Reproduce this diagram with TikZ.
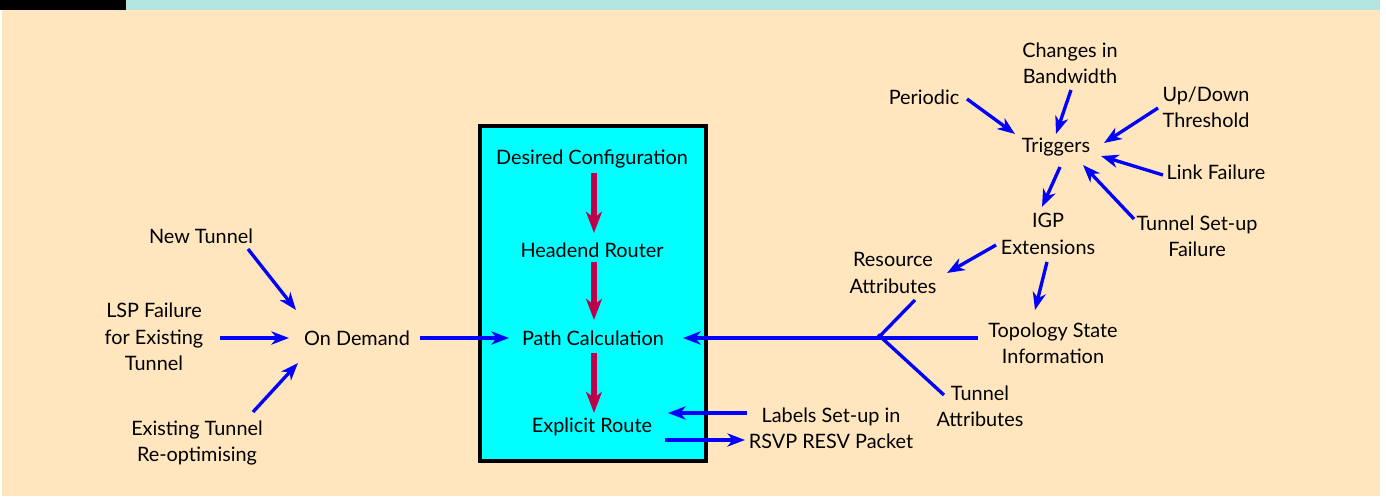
\documentclass[tikz,border=0pt]{standalone}
\usepackage{fontspec}
\setmainfont{Lato}
\usetikzlibrary{arrows.meta}

\definecolor{paper}{RGB}{255,230,191}
\definecolor{topbar}{RGB}{179,229,224}
\definecolor{boxcyan}{RGB}{0,255,255}
\definecolor{flowred}{RGB}{190,0,75}

\tikzset{
  txt/.style={font=\fontsize{11.3}{15}\selectfont, align=center, inner sep=0pt},
  arr/.style={draw=blue, line width=1.9pt, -{Stealth[length=10pt,width=7.5pt,inset=3pt]}},
  bline/.style={draw=blue, line width=1.9pt},
  redarr/.style={draw=flowred, line width=2.9pt, -{Stealth[length=12pt,width=9pt,inset=3.5pt]}},
}

\begin{document}
\begin{tikzpicture}[x=0.02cm, y=-0.02cm]

\useasboundingbox (0,0) rectangle (1386,497);

% Background
\fill[paper] (2,10) rectangle (1380,496);
\fill[black] (0,0) rectangle (126,10);
\fill[topbar] (126,0) rectangle (1380,10);
\filldraw[fill=boxcyan, draw=black, line width=2pt] (480,126) rectangle (706,461);

% Define nodes
\path (592,159) node[txt] (desired) {Desired Configuration}
(592,250) node[txt] (headend) {Headend Router}
(593,338) node[txt] (pathcalc) {Path Calculation}
(592,427) node[txt] (explicit) {Explicit Route}
(357,338) node[txt] (ondem) {On Demand}
(201,236) node[txt] (ntun) {New Tunnel}
(154,337) node[txt] (lsp) {LSP Failure\\for Existing\\Tunnel}
(197,443) node[txt] (exist) {Existing Tunnel\\Re-optimising}
(1056,147) node[txt] (trig) {Triggers}
(924,97) node[txt] (period) {Periodic}
(1070,63) node[txt] (chg) {Changes in\\Bandwidth}
(1206,107) node[txt] (updown) {Up/Down\\Threshold}
(1216,172) node[txt] (linkf) {Link Failure}
(1197,236) node[txt] (tsetup) {Tunnel Set-up\\Failure}
(1048,234) node[txt] (igp) {IGP\\Extensions}
(893,273) node[txt] (resattr) {Resource\\Attributes}
(1053,343) node[txt] (topo) {Topology State\\Information}
(980,406) node[txt] (tunattr) {Tunnel\\Attributes}
(831,428) node[txt] (labels) {Labels Set-up in\\RSVP RESV Packet}
(878,338) coordinate (join)
;

% Inside the box
\draw[redarr] ([shift={(2,14)}]desired.center) -- ([shift={(2,-17)}]headend.center);
\draw[redarr] ([shift={(2,12)}]headend.center) -- ([shift={(1,-18)}]pathcalc.center);
\draw[redarr] ([shift={(1,15)}]pathcalc.center) -- ([shift={(2,-14)}]explicit.center);

% On demand side
\draw[arr] ([shift={(47,13)}]ntun.center) -- ([shift={(-61,-28)}]ondem.center);
\draw[arr] ([shift={(66,1)}]lsp.center) -- ([shift={(-68,0)}]ondem.center);
\draw[arr] ([shift={(56,-31)}]exist.center) -- ([shift={(-59,25)}]ondem.center);
\draw[arr] ([shift={(63,0)}]ondem.center) -- ([shift={(-84,0)}]pathcalc.center);

% Triggers
\draw[arr] ([shift={(43,2)}]period.center) -- ([shift={(-41,-13)}]trig.center);
\draw[arr] ([shift={(1,27)}]chg.center) -- ([shift={(0,-13)}]trig.center);
\draw[arr] ([shift={(-48,1)}]updown.center) -- ([shift={(48,-4)}]trig.center);
\draw[arr] ([shift={(-53,3)}]linkf.center) -- ([shift={(45,9)}]trig.center);
\draw[arr] ([shift={(-63,-17)}]tsetup.center) -- ([shift={(27,18)}]trig.center);
\draw[arr] ([shift={(4,20)}]trig.center) -- ([shift={(-6,-27)}]igp.center);
\draw[arr] ([shift={(-52,11)}]igp.center) -- ([shift={(54,0)}]resattr.center);
\draw[arr] ([shift={(-1,28)}]igp.center) -- ([shift={(-18,-33)}]topo.center);

% Attributes into path calculation
\draw[bline] ([shift={(22,27)}]resattr.center) -- (join);
\draw[bline] ([shift={(-36,-11)}]tunattr.center) -- ([yshift=2]join);
\draw[arr] ([shift={(-75,-5)}]topo.center) -- (join) -- ([shift={(90,0)}]pathcalc.center);

% Labels
\draw[arr] ([shift={(-84,-15)}]labels.center) -- ([shift={(76,-14)}]explicit.center);
\draw[arr] ([shift={(73,13)}]explicit.center) -- ([shift={(-86,12)}]labels.center);

\end{tikzpicture}
\end{document}
